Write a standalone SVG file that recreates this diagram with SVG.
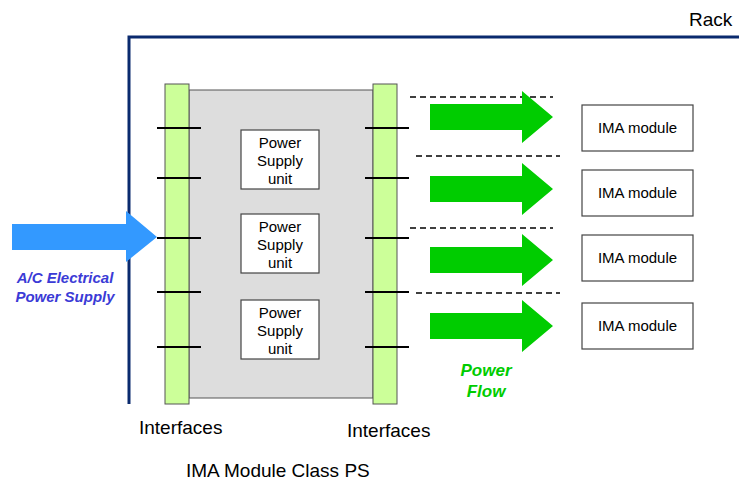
<svg xmlns="http://www.w3.org/2000/svg" width="739" height="481" viewBox="0 0 739 481">
<style>
text{font-family:"Liberation Sans",Arial,sans-serif;fill:#000}
.lbl{font-size:19px}
.psu{font-size:15px;text-anchor:middle}
.ima{font-size:15px;text-anchor:middle}
.box{fill:#fff;stroke:#444;stroke-width:1.2}
.bar{fill:#CCFF99;stroke:#555;stroke-width:1}
.tick{stroke:#000;stroke-width:2}
.dash{stroke:#000;stroke-width:1.5;stroke-dasharray:6 4;fill:none}
.garrow{fill:#00CC00}
</style>
<g id="rack">
<path d="M129 404 V37 H739" fill="none" stroke="#0A2A6E" stroke-width="3"/>
<text class="lbl" x="689" y="26">Rack</text>
</g>
<g id="supply-arrow">
<polygon points="12,224 126,224 126,211 157,237 126,262 126,250 12,250" fill="#3399FF"/>
<text x="65" y="283" font-size="15" font-weight="bold" font-style="italic" text-anchor="middle" style="fill:#3B3BD6">A/C Electrical</text>
<text x="65" y="302" font-size="15" font-weight="bold" font-style="italic" text-anchor="middle" style="fill:#3B3BD6">Power Supply</text>
</g>
<g id="module-body">
<rect x="189" y="90" width="184" height="308" fill="#DDDDDD" stroke="#555" stroke-width="1"/>
</g>
<g id="left-interface">
<rect class="bar" x="165" y="84" width="24" height="320"/>
<line class="tick" x1="157" y1="128" x2="201" y2="128"/>
<line class="tick" x1="157" y1="178" x2="201" y2="178"/>
<line class="tick" x1="157" y1="238" x2="201" y2="238"/>
<line class="tick" x1="157" y1="292" x2="201" y2="292"/>
<line class="tick" x1="157" y1="347" x2="201" y2="347"/>
<text class="lbl" x="139" y="434">Interfaces</text>
</g>
<g id="right-interface">
<rect class="bar" x="373" y="84" width="24" height="320"/>
<line class="tick" x1="365" y1="128" x2="409" y2="128"/>
<line class="tick" x1="365" y1="178" x2="409" y2="178"/>
<line class="tick" x1="365" y1="238" x2="409" y2="238"/>
<line class="tick" x1="365" y1="292" x2="409" y2="292"/>
<line class="tick" x1="365" y1="347" x2="409" y2="347"/>
<text class="lbl" x="347" y="437">Interfaces</text>
</g>
<g id="psu1">
<rect class="box" x="241" y="130" width="78" height="59"/>
<text class="psu" x="280" y="148">Power</text>
<text class="psu" x="280" y="166">Supply</text>
<text class="psu" x="280" y="184">unit</text>
</g>
<g id="psu2">
<rect class="box" x="241" y="214" width="78" height="59"/>
<text class="psu" x="280" y="232">Power</text>
<text class="psu" x="280" y="250">Supply</text>
<text class="psu" x="280" y="268">unit</text>
</g>
<g id="psu3">
<rect class="box" x="241" y="300" width="78" height="59"/>
<text class="psu" x="280" y="318">Power</text>
<text class="psu" x="280" y="336">Supply</text>
<text class="psu" x="280" y="354">unit</text>
</g>
<g id="connectors">
<line class="dash" x1="410" y1="97" x2="553" y2="97"/>
<line class="dash" x1="416" y1="156" x2="560" y2="156"/>
<line class="dash" x1="410" y1="228" x2="553" y2="228"/>
<line class="dash" x1="416" y1="293" x2="560" y2="293"/>
<polygon class="garrow" points="430,104 522,104 522,91 553,117 522,143 522,130 430,130"/>
<polygon class="garrow" points="430,176 522,176 522,163 553,189 522,215 522,202 430,202"/>
<polygon class="garrow" points="430,247 522,247 522,234 553,260 522,286 522,273 430,273"/>
<polygon class="garrow" points="430,313 522,313 522,300 553,326 522,352 522,339 430,339"/>
<text x="486" y="376" font-size="17" font-weight="bold" font-style="italic" text-anchor="middle" style="fill:#00CC00">Power</text>
<text x="486" y="397" font-size="17" font-weight="bold" font-style="italic" text-anchor="middle" style="fill:#00CC00">Flow</text>
</g>
<g id="ima1">
<rect class="box" x="582" y="105" width="111" height="46"/>
<text class="ima" x="637.5" y="133">IMA module</text>
</g>
<g id="ima2">
<rect class="box" x="582" y="170" width="111" height="46"/>
<text class="ima" x="637.5" y="198">IMA module</text>
</g>
<g id="ima3">
<rect class="box" x="582" y="235" width="111" height="46"/>
<text class="ima" x="637.5" y="263">IMA module</text>
</g>
<g id="ima4">
<rect class="box" x="582" y="303" width="111" height="46"/>
<text class="ima" x="637.5" y="331">IMA module</text>
</g>
<g id="caption">
<text class="lbl" x="186" y="477">IMA Module Class PS</text>
</g>
</svg>
